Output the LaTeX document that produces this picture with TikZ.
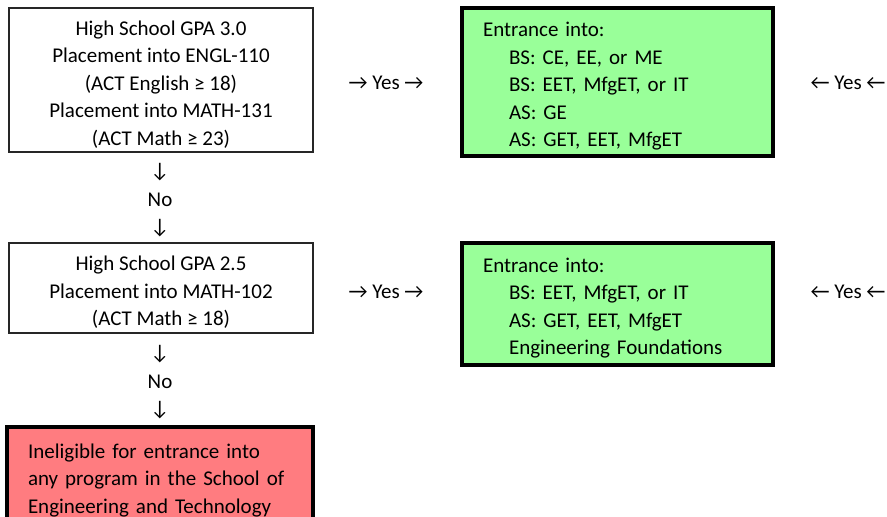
\documentclass[tikz,border=0pt]{standalone}
\usepackage{fontspec}
\setmainfont{Carlito}
\usetikzlibrary{positioning}

\definecolor{passgreen}{HTML}{99FF99}
\definecolor{failred}{HTML}{FF7C80}

% strut that pushes the first line of a box down a little
\newcommand\firstgap{\rule{0pt}{11.5pt}}

\tikzset{
  test/.style={draw=black!85, line width=0.6pt, align=center, minimum width=152pt, inner sep=0pt},
  entry/.style={draw=black, line width=1.6pt, fill=passgreen, align=left,
    text width=134.5pt, inner xsep=10.5pt, inner ysep=0pt},
  fail/.style={draw=black, line width=1.6pt, fill=failred, align=left,
    text width=132pt, inner xsep=10.5pt, inner ysep=0pt},
  word/.style={inner sep=0pt}
}

\begin{document}
\begin{tikzpicture}[x=0.5pt, y=-0.5pt, font=\fontsize{10.5pt}{13.75pt}\selectfont]
  \useasboundingbox (0,0) rectangle (887,517);

  % tests on the left
  \node[test, minimum height=72pt] (gpaA) at (161,80)
    {\firstgap High School GPA 3.0\\Placement into ENGL-110\\(ACT English ≥ 18)\\Placement into MATH-131\\(ACT Math ≥ 23)};
  \node[test, minimum height=45pt] (gpaB) at (161,288)
    {\firstgap High School GPA 2.5\\Placement into MATH-102\\(ACT Math ≥ 18)};

  % programs
  \node[entry, minimum height=74pt] (progA) at (617.5,82)
    {\firstgap Entrance into:\\\hspace*{13pt}BS: CE, EE, or ME\\\hspace*{13pt}BS: EET, MfgET, or IT\\\hspace*{13pt}AS: GE\\\hspace*{13pt}AS: GET, EET, MfgET};
  \node[entry, minimum height=61pt] (progB) at (617.5,304)
    {\firstgap Entrance into:\\\hspace*{13pt}BS: EET, MfgET, or IT\\\hspace*{13pt}AS: GET, EET, MfgET\\\hspace*{13pt}Engineering Foundations};
  \node[fail, minimum height=49pt] (inelig) at (160,476)
    {\firstgap Ineligible for entrance into\\any program in the School of\\Engineering and Technology};

  % yes arrows
  \node[word] (yesA) at (386,83) {→ Yes →};
  \node[word] (backA) at (848,83) {← Yes ←};
  \node[word] (yesB) at (386,292) {→ Yes →};
  \node[word] (backB) at (848,292) {← Yes ←};

  % no arrows
  \foreach \k/\y in {A/172,B/354} {
    \node[word] (downI\k) at (160,\y) {↓};
    \node[word] (no\k) at (160,\y+28) {No};
    \node[word] (downII\k) at (160,\y+56) {↓};
  }
\end{tikzpicture}
\end{document}
